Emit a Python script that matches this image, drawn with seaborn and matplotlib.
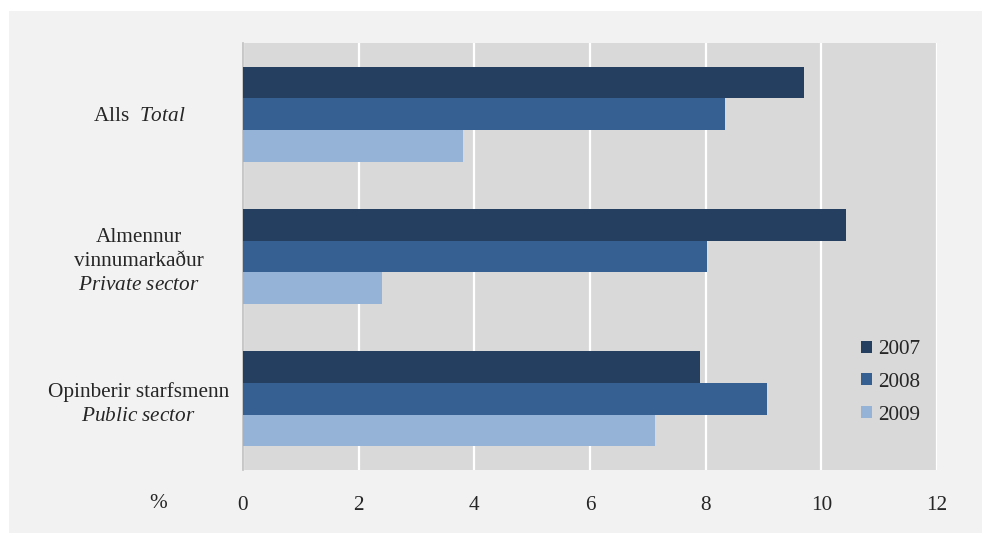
import matplotlib
matplotlib.use("Agg")
import matplotlib.pyplot as plt
from matplotlib.patches import Rectangle
import pandas as pd
import seaborn as sns

# data (%)
groups = ["Alls", "Almennur", "Opinberir"]
group_labels = [
    "Alls  $\\mathit{Total}$",
    "Almennur\nvinnumarkaður\n$\\mathit{Private\\ sector}$",
    "Opinberir starfsmenn\n$\\mathit{Public\\ sector}$",
]
years = ["2007", "2008", "2009"]
v2007 = [9.7, 10.42, 7.91]
v2008 = [8.34, 8.02, 9.06]
v2009 = [3.8, 2.41, 7.12]
colors = ["#243f60", "#366092", "#95b3d7"]

rows = []
for yr, vals in zip(years, [v2007, v2008, v2009]):
    for g, v in zip(groups, vals):
        rows.append({"group": g, "year": yr, "value": v})
df = pd.DataFrame(rows)

sns.set_theme(style="white")
plt.rcParams["font.family"] = ["Liberation Serif", "DejaVu Serif"]
plt.rcParams["mathtext.fontset"] = "custom"
plt.rcParams["mathtext.rm"] = "Liberation Serif"
plt.rcParams["mathtext.it"] = "Liberation Serif:italic"
FS = 15.3

fig = plt.figure(figsize=(9.82, 5.33), dpi=100)
fig.patch.set_facecolor("white")
fig.patches.append(Rectangle((9 / 982, 0), 1, 1 - 11 / 533, transform=fig.transFigure,
                             facecolor="#f2f2f2", edgecolor="none", zorder=-10))
ax = fig.add_axes([243 / 982, 1 - 470 / 533, (937 - 243) / 982, (470 - 43) / 533])
ax.set_facecolor("#d9d9d9")

sns.barplot(data=df, y="group", x="value", hue="year", orient="h",
            palette=colors, saturation=1, width=0.667, gap=0, linewidth=0,
            order=groups, hue_order=years, ax=ax, zorder=3)

ax.set_xlim(0, 12)
ax.set_ylim(2.5, -0.5)
ax.set_xticks(range(0, 13, 2))
ax.xaxis.grid(True, color="white", linewidth=1.6, zorder=0)
ax.set_axisbelow(True)
ax.set_xlabel("")
ax.set_ylabel("")

ax.set_yticks(range(len(groups)))
ax.set_yticklabels(group_labels, fontsize=FS, multialignment="center", linespacing=1.36)
for lbl in ax.get_yticklabels():
    lbl.set_horizontalalignment("center")
ax.tick_params(axis="y", length=0, pad=75)
ax.tick_params(axis="x", length=0, pad=19, labelsize=FS)

for s in ["top", "right", "bottom"]:
    ax.spines[s].set_visible(False)
ax.spines["left"].set_color("#bfbfbf")
ax.spines["left"].set_linewidth(1.2)

ax.text(158 / 982, 1 - 503 / 533, "%", transform=fig.transFigure,
        ha="center", va="center", fontsize=FS)

ax.legend(loc="center left", bbox_to_anchor=(0.875, 0.205), frameon=False,
          fontsize=FS, handlelength=0.5, handleheight=0.5,
          handletextpad=0.3, labelspacing=0.65, borderpad=0)

fig.savefig("out.png", dpi=100)
